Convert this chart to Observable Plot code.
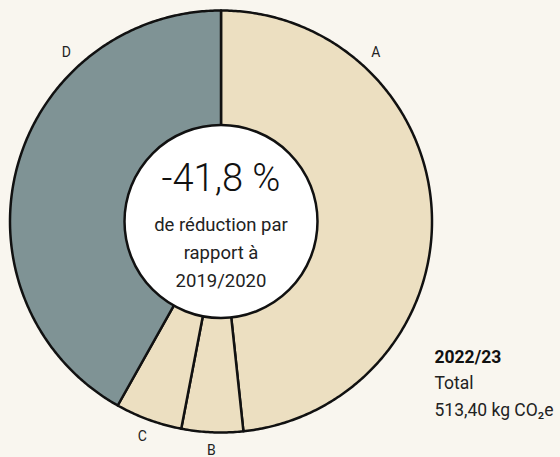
<!DOCTYPE html>
<html><head><meta charset="utf-8">
<script src="https://cdn.jsdelivr.net/npm/d3@7"></script>
<script src="https://cdn.jsdelivr.net/npm/@observablehq/plot@0.6"></script>
<style>
html,body{margin:0;padding:0;background:#f9f6ef;}
#chart{width:560px;height:457px;}
</style></head><body><div id="chart"></div>
<script>
// ---- data ----
const categories = ["A", "B", "C", "D"];
const values = [248.0, 24.2, 26.3, 214.9]; // kg CO2e
const groups = ["light", "light", "light", "dark"];
const centerValue = "-41,8 %";
const centerLines = ["de réduction par", "rapport à", "2019/2020"];
const yearLabel = "2022/23";
const totalLabel = "Total";
const totalValue = "513,40 kg CO₂e";

// ---- layout ----
const W = 560, H = 457, cx = 220.5, cy = 221, R = 211, Rin = 96.5, Rlab = 229;

const rows = categories.map((c, i) => ({key: c, value: values[i], group: groups[i]}));
const arcs = d3.pie().sort(null).value(d => d.value)(rows);

const pts = [];
const labels = [];
for (const a of arcs) {
  const k = a.data.key, g = a.data.group;
  pts.push({key: k, group: g, x: 0, y: 0});
  const n = Math.max(2, Math.ceil((a.endAngle - a.startAngle) / 0.01));
  for (let j = 0; j <= n; j++) {
    const t = a.startAngle + (a.endAngle - a.startAngle) * j / n;
    pts.push({key: k, group: g, x: R * Math.sin(t), y: R * Math.cos(t)});
  }
  pts.push({key: k, group: g, x: 0, y: 0});
  const span = a.endAngle - a.startAngle;
  const off = 0.742;
  const la = span > Math.PI / 2 ? (a.startAngle === 0 ? a.startAngle + off : a.endAngle - off) : (a.startAngle + a.endAngle) / 2;
  labels.push({key: k, x: Rlab * Math.sin(la), y: Rlab * Math.cos(la)});
}

const chart = Plot.plot({
  width: W, height: H, margin: 0,
  x: {domain: [-cx, W - cx], axis: null},
  y: {domain: [-(H - cy), cy], axis: null},
  color: {domain: ["light", "dark"], range: ["#ecdfc1", "#7f9395"]},
  style: {background: "transparent", fontFamily: "Roboto, sans-serif", color: "#1a1a1a"},
  marks: [
    Plot.line(pts, {x: "x", y: "y", z: "key", fill: "group", stroke: "#111", strokeWidth: 2.5, strokeLinejoin: "round", curve: "linear"}),
    Plot.dot([{x: 0, y: 0}], {x: "x", y: "y", r: Rin, fill: "white", stroke: "#111", strokeWidth: 2.5}),
    Plot.text(labels, {x: "x", y: "y", text: "key", fontSize: 14, fill: "#222"}),
    Plot.text([centerValue], {x: () => 0, y: () => 0, text: d => d, dy: -43, fontSize: 38, fontWeight: 300, fill: "#111"}),
    Plot.text(centerLines, {x: () => 0, y: () => 0, text: d => d, fontSize: 18.5, fill: "#222"}),
    Plot.text([yearLabel], {frameAnchor: "top-left", text: d => d, dx: 434, dy: 357, textAnchor: "start", lineAnchor: "middle", fontSize: 17.5, fontWeight: "bold", fill: "#111"}),
    Plot.text([totalLabel], {frameAnchor: "top-left", text: d => d, dx: 434, dy: 383, textAnchor: "start", lineAnchor: "middle", fontSize: 17.5, fill: "#222"}),
    Plot.text([totalValue], {frameAnchor: "top-left", text: d => d, dx: 434, dy: 410, textAnchor: "start", lineAnchor: "middle", fontSize: 17.5, fill: "#222"})
  ]
});
// position the three centre lines
chart.querySelectorAll("g[aria-label='text']").forEach(g => {
  const ts = g.querySelectorAll("text");
  if (ts.length === 3 && ts[0].textContent === centerLines[0]) {
    [4, 32, 60].forEach((dy, i) => ts[i].setAttribute("dy", dy / 18.5 + "em"));
  }
});
document.getElementById("chart").append(chart);
</script></body></html>
